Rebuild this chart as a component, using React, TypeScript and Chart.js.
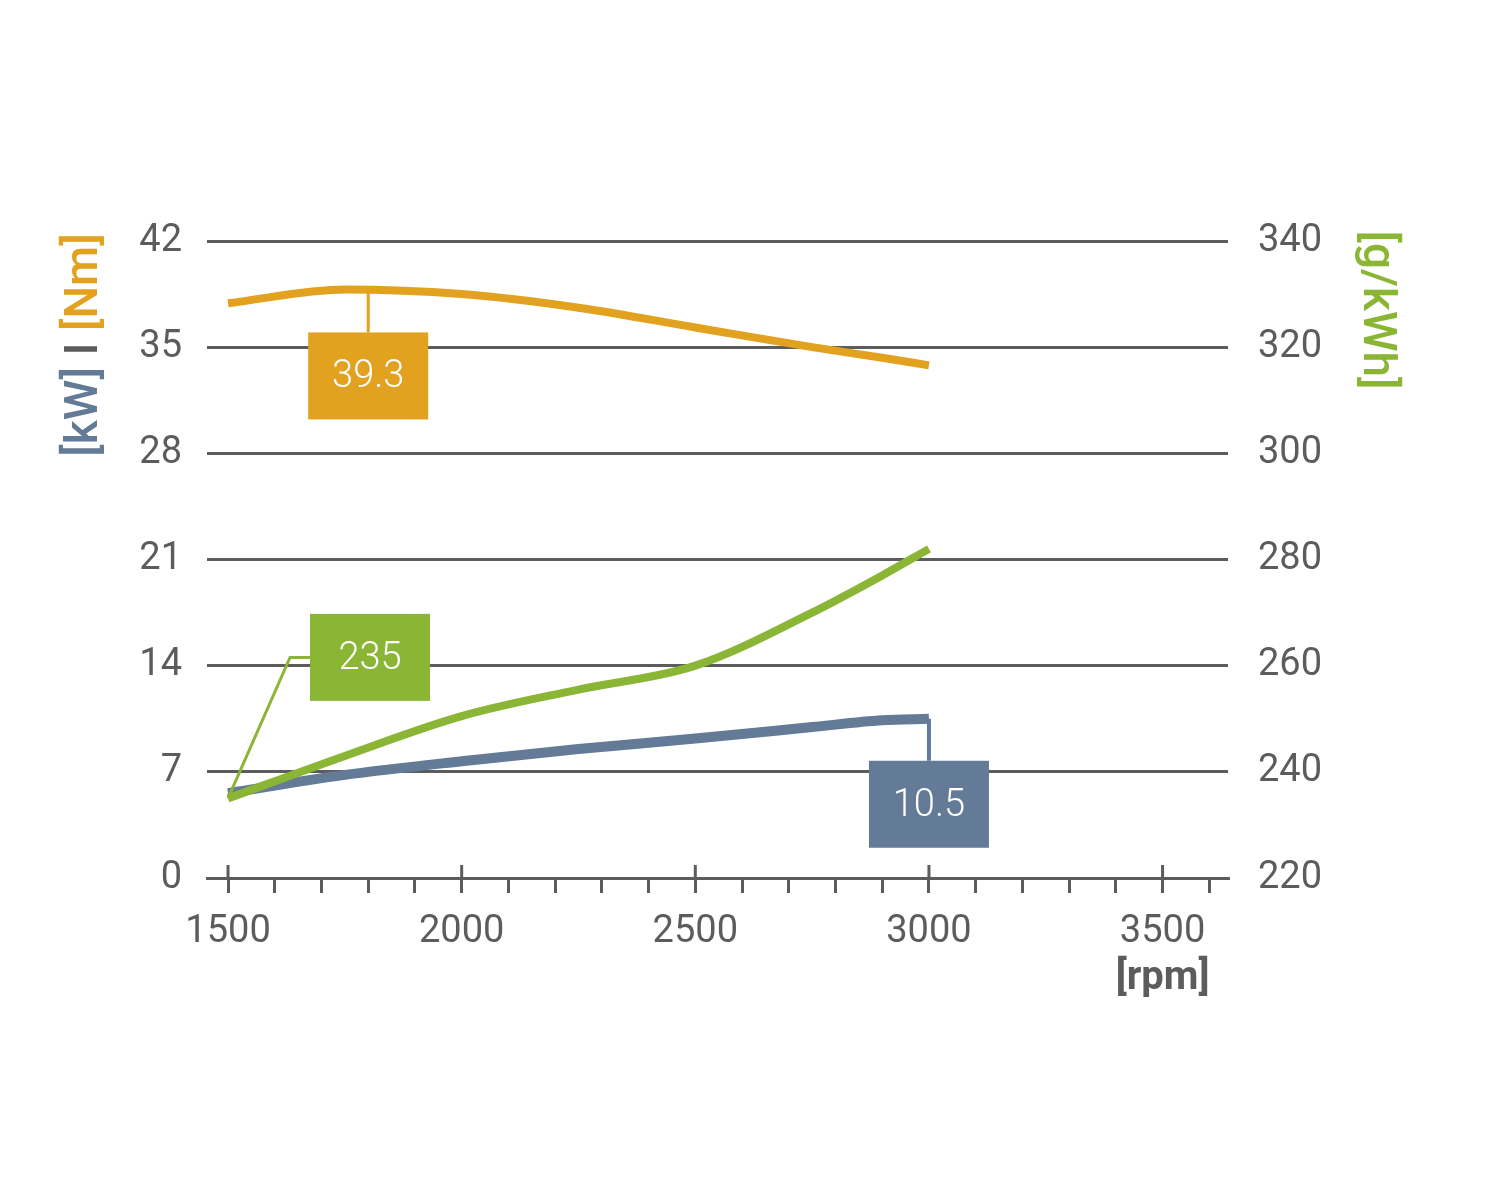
import React, { useEffect, useRef } from 'react';
import { Chart, registerables } from 'chart.js';

Chart.register(...registerables);

// engine curves
const rpm = [1500, 1750, 2000, 2250, 2500, 2750, 2900, 3000];
const torqueNm = [37.9, 38.8, 38.5, 37.6, 36.3, 35.0, 34.3, 33.8];
const powerKw = [5.6, 6.8, 7.7, 8.5, 9.2, 9.95, 10.4, 10.5];
const consumption = [235, 243, 250.5, 255.5, 260, 270, 277, 282];

const leftTicks = [0, 7, 14, 21, 28, 35, 42];
const rightTicks = [220, 240, 260, 280, 300, 320, 340];
const xLabels = [1500, 2000, 2500, 3000, 3500];

// callout boxes: which series, at which rpm, and what text
const calloutSeries = ['torque', 'consumption', 'power'];
const calloutRpm = [1800, 1500, 3000];
const calloutText = ['39.3', '235', '10.5'];

const ORANGE = '#e2a11f';
const GREEN = '#8ab535';
const BLUE = '#637b97';
const GRAY = '#5c5c5c';
const FONT = '"Roboto", "Liberation Sans", sans-serif';

const toPts = (ys: number[]) => rpm.map((x, i) => ({ x, y: ys[i] }));

const extras = {
  id: 'extras',
  afterDatasetsDraw(chart: any) {
    const { ctx, scales } = chart;
    const x = scales.x;
    const area = chart.chartArea;

    // upper half of major x ticks
    ctx.save();
    ctx.strokeStyle = GRAY;
    ctx.lineWidth = 3;
    xLabels.forEach((v) => {
      const px = x.getPixelForValue(v);
      ctx.beginPath();
      ctx.moveTo(px, area.bottom - 13);
      ctx.lineTo(px, area.bottom);
      ctx.stroke();
    });

    // callouts
    calloutSeries.forEach((s, i) => {
      const dsIndex = s === 'torque' ? 0 : s === 'consumption' ? 1 : 2;
      const ds = chart.data.datasets[dsIndex];
      const yScale = scales[ds.yAxisID];
      const arr = ds.data;
      let val = arr[0].y;
      for (let k = 0; k < arr.length - 1; k++) {
        if (calloutRpm[i] >= arr[k].x && calloutRpm[i] <= arr[k + 1].x) {
          const t = (calloutRpm[i] - arr[k].x) / (arr[k + 1].x - arr[k].x);
          val = arr[k].y + t * (arr[k + 1].y - arr[k].y);
        }
      }
      const px = x.getPixelForValue(calloutRpm[i]);
      const py = yScale.getPixelForValue(val);
      const color = ds.borderColor;
      const w = 120;
      const h = 87;
      let bx = px - w / 2;
      let by = py + 42;
      ctx.strokeStyle = color;
      ctx.lineWidth = s === 'power' ? 4 : 3;
      ctx.beginPath();
      if (s === 'consumption') {
        bx = px + 82;
        by = py - 141 - h / 2;
        ctx.moveTo(px, py);
        ctx.lineTo(px + 62, py - 141);
        ctx.lineTo(bx, py - 141);
      } else {
        ctx.moveTo(px, py);
        ctx.lineTo(px, by);
      }
      ctx.stroke();
      ctx.fillStyle = color;
      ctx.fillRect(bx, by, w, h);
      ctx.fillStyle = '#fff';
      ctx.font = `300 38px ${FONT}`;
      ctx.textAlign = 'center';
      ctx.textBaseline = 'middle';
      ctx.fillText(calloutText[i], bx + w / 2, by + h / 2 + 2);
    });

    // axis titles
    ctx.font = `500 46px ${FONT}`;
    ctx.textBaseline = 'middle';
    ctx.save();
    ctx.translate(85, 345);
    ctx.rotate(-Math.PI / 2);
    const parts = [
      { t: '[kW]', c: BLUE },
      { t: ' I ', c: GRAY },
      { t: '[Nm]', c: ORANGE },
    ];
    const total = parts.reduce((a, p) => a + ctx.measureText(p.t).width, 0);
    let cx = -total / 2;
    ctx.textAlign = 'left';
    parts.forEach((p) => {
      ctx.fillStyle = p.c;
      ctx.fillText(p.t, cx, 0);
      cx += ctx.measureText(p.t).width;
    });
    ctx.restore();

    ctx.save();
    ctx.translate(1375, 310);
    ctx.rotate(Math.PI / 2);
    ctx.textAlign = 'center';
    ctx.fillStyle = GREEN;
    ctx.fillText('[g/kWh]', 0, 0);
    ctx.restore();

    ctx.font = `bold 40px ${FONT}`;
    ctx.fillStyle = GRAY;
    ctx.textAlign = 'right';
    ctx.fillText('[rpm]', x.getPixelForValue(3500) + 47, 979);
    ctx.restore();
  },
};

const App: React.FC = () => {
  const chartRef = useRef<HTMLCanvasElement>(null);

  useEffect(() => {
    document.body.style.margin = '0';
    if (!chartRef.current) return;
    const ctx = chartRef.current.getContext('2d');
    if (!ctx) return;

    const tickFont = { family: FONT, size: 38 };

    const chart = new Chart(ctx, {
      type: 'line',
      data: {
        datasets: [
          {
            label: 'Torque [Nm]',
            data: toPts(torqueNm),
            borderColor: ORANGE,
            borderWidth: 8,
            yAxisID: 'y',
            pointRadius: 0,
            cubicInterpolationMode: 'monotone',
            order: 3,
          },
          {
            label: 'Consumption [g/kWh]',
            data: toPts(consumption),
            borderColor: GREEN,
            borderWidth: 8,
            yAxisID: 'y1',
            pointRadius: 0,
            cubicInterpolationMode: 'monotone',
            order: 1,
          },
          {
            label: 'Power [kW]',
            data: toPts(powerKw),
            borderColor: BLUE,
            borderWidth: 10,
            yAxisID: 'y',
            pointRadius: 0,
            cubicInterpolationMode: 'monotone',
            order: 2,
          },
        ],
      },
      options: {
        responsive: false,
        animation: false,
        layout: { padding: { top: 241, left: 0, right: 0, bottom: 0 } },
        plugins: {
          legend: { display: false },
          tooltip: { enabled: false },
        },
        scales: {
          x: {
            type: 'linear',
            min: 1455,
            max: 3640,
            afterFit: (s: any) => {
              s.height = 322;
            },
            ticks: {
              stepSize: 100,
              includeBounds: false,
              autoSkip: false,
              maxRotation: 0,
              padding: 17,
              color: GRAY,
              font: tickFont,
              callback: (v: any) => (xLabels.includes(Number(v)) ? String(v) : ''),
            },
            grid: {
              drawOnChartArea: false,
              drawTicks: true,
              tickLength: 15,
              color: GRAY,
              lineWidth: 3,
            },
            border: { display: true, color: GRAY, width: 3 },
          },
          y: {
            position: 'left',
            min: leftTicks[0],
            max: leftTicks[leftTicks.length - 1],
            afterFit: (s: any) => {
              s.width = 207;
            },
            afterBuildTicks: (s: any) => {
              s.ticks = leftTicks.map((v) => ({ value: v }));
            },
            ticks: { padding: 25, color: GRAY, font: tickFont },
            grid: {
              drawTicks: false,
              color: (c: any) => (c.tick && c.tick.value === 0 ? 'rgba(0,0,0,0)' : GRAY),
              lineWidth: 3,
            },
            border: { display: false },
          },
          y1: {
            position: 'right',
            min: rightTicks[0],
            max: rightTicks[rightTicks.length - 1],
            afterFit: (s: any) => {
              s.width = 272;
            },
            afterBuildTicks: (s: any) => {
              s.ticks = rightTicks.map((v) => ({ value: v }));
            },
            ticks: { padding: 30, color: GRAY, font: tickFont },
            grid: { display: false, drawTicks: false },
            border: { display: false },
          },
        },
      },
      plugins: [extras],
    });

    return () => {
      chart.destroy();
    };
  }, []);

  return (
    <div style={{ width: 1500, height: 1200, background: '#fff' }}>
      <canvas ref={chartRef} width={1500} height={1200}></canvas>
    </div>
  );
};

export default App;
